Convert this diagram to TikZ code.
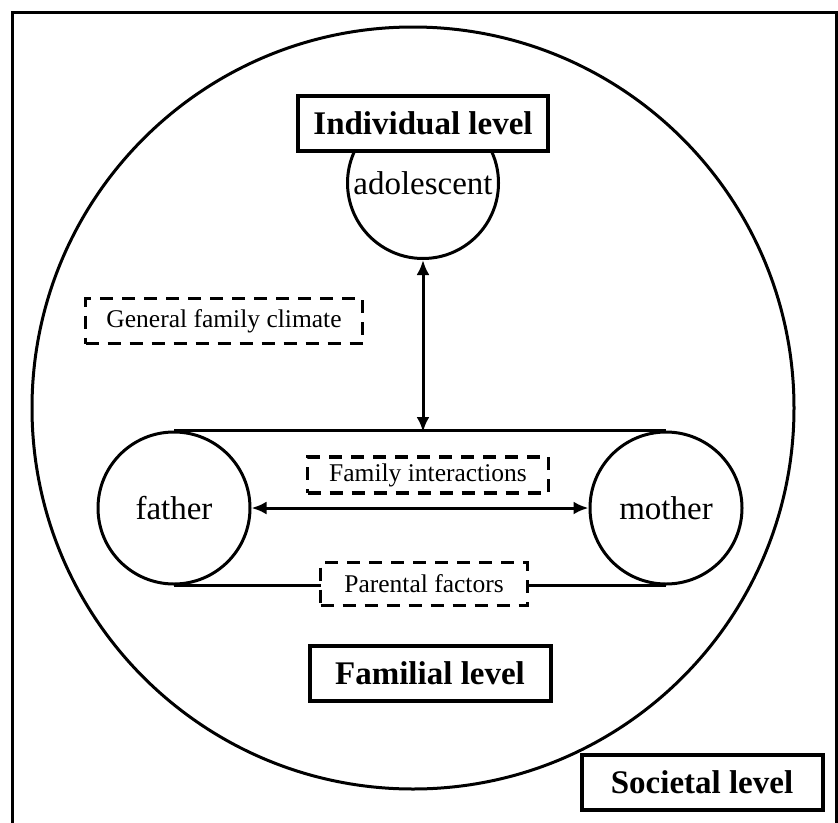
\documentclass[tikz,border=0pt]{standalone}
\usepackage{fontspec}
\setmainfont{Liberation Serif}
\usetikzlibrary{arrows.meta}

\begin{document}
\begin{tikzpicture}[x=1pt, y=-1pt, line width=3pt,
        levelbox/.style={draw, line width=4pt, fill=white, inner sep=0pt,
            font=\fontsize{33}{38}\selectfont\bfseries},
        person/.style={draw, circle, fill=white, inner sep=0pt,
            font=\fontsize{33}{38}\selectfont},
        factorbox/.style={draw, dash pattern=on 13pt off 9pt, line width=3.5pt,
            fill=white, inner sep=0pt, font=\fontsize{25.5}{30}\selectfont},
        link/.style={{Latex[length=15pt, width=13pt]}-{Latex[length=15pt, width=13pt]}}]
    \useasboundingbox (0,0) rectangle (838,822);
    % societal frame, open at the bottom
    \draw (12,824) -- (12,12) -- (836,12) -- (836,824);
    \node[levelbox, minimum width=241pt, minimum height=55pt] (societal) at (702,782) {Societal level};
    % familial circle
    \draw (413,408) circle (381);
    % adolescent
    \node[person, minimum size=151pt] (adolescent) at (423,183) {adolescent};
    \node[levelbox, minimum width=250pt, minimum height=55pt] (individual) at (423,123) {Individual level};
    % parents
    \node[person, minimum size=152pt] (father) at (174,508) {father};
    \node[person, minimum size=152pt] (mother) at (666,508) {mother};
    \draw (father.north) -- (mother.north);
    \draw (father.south) -- (mother.south);
    \coordinate (famtop) at (423,432);
    \draw[link] (adolescent.south) -- (famtop);
    \draw[link] (father.east) -- (mother.east -| mother.west);
    \node[factorbox, minimum width=277pt, minimum height=45pt] (climate) at (224,321) {General family climate};
    \node[factorbox, minimum width=241pt, minimum height=36pt] (interactions) at (428,475) {Family interactions};
    \node[factorbox, minimum width=207pt, minimum height=43pt] (parental) at (424,584) {Parental factors};
    \node[levelbox, minimum width=241pt, minimum height=55pt] (familial) at (430,673) {Familial level};
\end{tikzpicture}
\end{document}
